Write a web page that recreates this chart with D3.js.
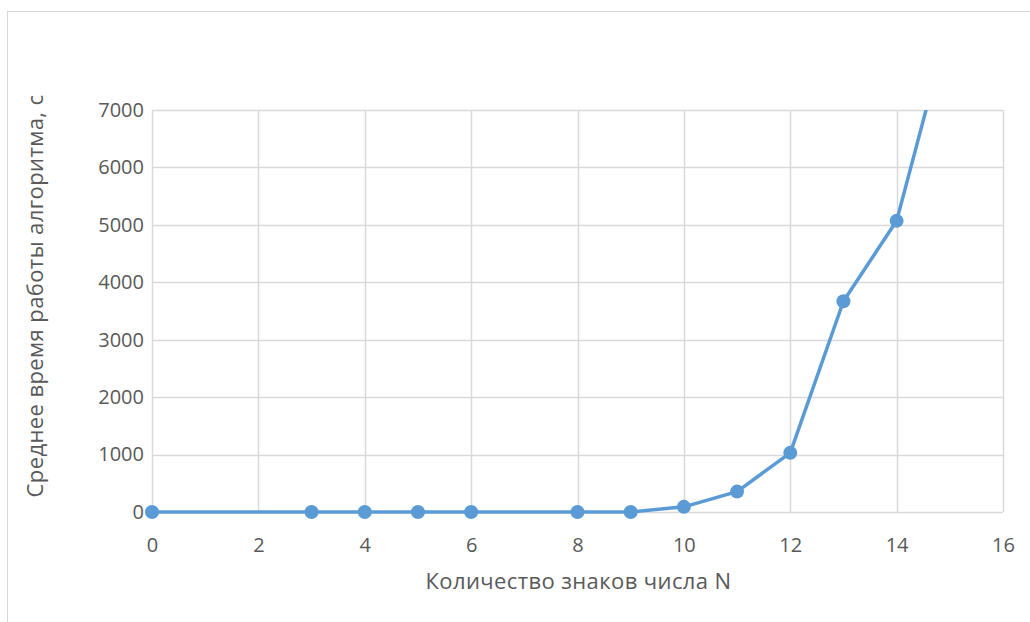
<!DOCTYPE html>
<html><head><meta charset="utf-8">
<script src="https://cdn.jsdelivr.net/npm/d3@7"></script>
<style>body{margin:0;background:#fff}svg{display:block}text{font-family:"Open Sans",sans-serif;fill:#595959}</style>
</head><body>
<svg id="c" width="1030" height="622"></svg>
<script>
const xValues = [0, 3, 4, 5, 6, 8, 9, 10, 11, 12, 13, 14, 15];
const yValues = [0, 0, 0, 0, 0, 0, 0, 90, 355, 1030, 3670, 5070, 8560];
const xTicks = [0, 2, 4, 6, 8, 10, 12, 14, 16];
const yTicks = [0, 1000, 2000, 3000, 4000, 5000, 6000, 7000];
const xTitle = "Количество знаков числа N";
const yTitle = "Среднее время работы алгоритма, с";

const svg = d3.select("#c");
const m = {l:152, r:1003, t:110, b:512};
const x = d3.scaleLinear().domain([0,16]).range([m.l, m.r]);
const y = d3.scaleLinear().domain([0,7000]).range([m.b, m.t]);

// chart border
svg.append("rect").attr("x",7.5).attr("y",11.5).attr("width",1040).attr("height",700)
  .attr("fill","none").attr("stroke","#d9d9d9").attr("stroke-width",1);

// gridlines
svg.append("g").selectAll("line").data(yTicks).join("line")
  .attr("x1",m.l).attr("x2",m.r).attr("y1",d=>Math.round(y(d))+0.5).attr("y2",d=>Math.round(y(d))+0.5)
  .attr("stroke","#d9d9d9").attr("stroke-width",1.5);
svg.append("g").selectAll("line").data(xTicks).join("line")
  .attr("y1",m.t).attr("y2",m.b).attr("x1",d=>Math.round(x(d))+0.5).attr("x2",d=>Math.round(x(d))+0.5)
  .attr("stroke","#d9d9d9").attr("stroke-width",1.5);

// axes labels via d3 axes
const xa = svg.append("g").attr("transform",`translate(0,${m.b})`)
  .call(d3.axisBottom(x).tickValues(xTicks).tickSize(0).tickPadding(26).tickFormat(d3.format("d")));
xa.select(".domain").remove();
xa.selectAll("text").style("font-size","20px").style("fill","#595959").style("font-family","Open Sans");
const ya = svg.append("g").attr("transform",`translate(${m.l},0)`)
  .call(d3.axisLeft(y).tickValues(yTicks).tickSize(0).tickPadding(8).tickFormat(d3.format("d")));
ya.select(".domain").remove();
ya.selectAll("text").style("font-size","20px").style("fill","#595959").style("font-family","Open Sans");

// titles
svg.append("text").attr("x",(m.l+m.r)/2+1).attr("y",589).attr("text-anchor","middle")
  .style("font-size","22px").style("letter-spacing","0.4px").text(xTitle);
svg.append("text").attr("transform",`translate(43,296) rotate(-90)`).attr("text-anchor","middle")
  .style("font-size","22px").style("letter-spacing","0.4px").text(yTitle);

// clip
svg.append("clipPath").attr("id","clip").append("rect")
  .attr("x",m.l-10).attr("y",m.t).attr("width",m.r-m.l+20).attr("height",m.b-m.t+20);

const data = xValues.map((v,i)=>({x:v,y:yValues[i]}));
const g = svg.append("g").attr("clip-path","url(#clip)");
g.append("path").datum(data).attr("fill","none").attr("stroke","#5b9bd5").attr("stroke-width",3.5)
  .attr("stroke-linejoin","round")
  .attr("d", d3.line().x(d=>x(d.x)).y(d=>y(d.y)));
g.selectAll("circle").data(data).join("circle")
  .attr("cx",d=>x(d.x)).attr("cy",d=>y(d.y)).attr("r",7).attr("fill","#5b9bd5");
</script>
</body></html>
